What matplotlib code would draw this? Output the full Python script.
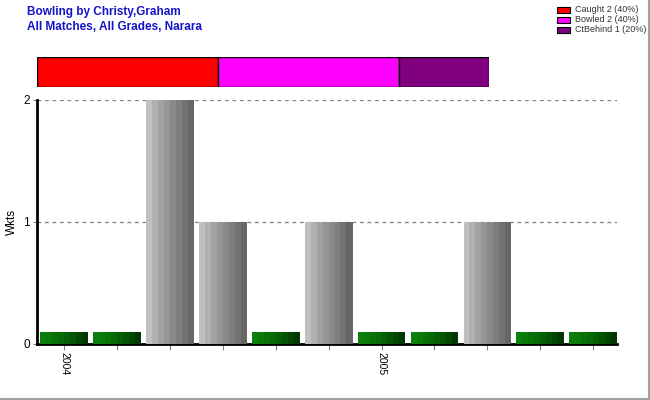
import matplotlib
matplotlib.use("Agg")
import matplotlib.pyplot as plt
from matplotlib.patches import Rectangle
import numpy as np

plt.rcParams["font.family"] = ["Liberation Sans", "DejaVu Sans"]

# ---- data ----
matches = list(range(11))
wkts = [0, 0, 2, 1, 0, 1, 0, 0, 1, 0, 0]
tick_labels = {0: "2004", 6: "2005"}
dismissal_types = ["Caught", "Bowled", "CtBehind"]
dismissal_counts = [2, 2, 1]
dismissal_colors = ["#ff0000", "#ff00ff", "#800080"]
zero_height = 0.1

W, H = 650, 400
fig = plt.figure(figsize=(6.5, 4.0), dpi=100)
fig.patch.set_facecolor("white")

def fx(px):
    return px / W

def fy(py):
    return 1 - py / H

# ---- main axes ----
ax = fig.add_axes([fx(37), fy(344), fx(617) - fx(37), fy(100) - fy(344)])
ax.set_xlim(-0.51, 10.45)
ax.set_ylim(0, 2)

gray_stripes = ["#c0c0c0", "#b0b0b0", "#a2a2a2", "#969696", "#8a8a8a", "#7e7e7e", "#727272", "#666666"]
green_stripes = ["#0c800c", "#0a7a0a", "#087208", "#066a06", "#056005", "#045404", "#024602", "#013801"]
bw = 0.9
n = len(gray_stripes)
sw = bw / n
for x, v in zip(matches, wkts):
    h = v if v > 0 else zero_height
    cols = gray_stripes if v > 0 else green_stripes
    for k, c in enumerate(cols):
        ax.bar(x - bw / 2 + sw * k, h, width=sw * 1.02, align="edge",
               color=c, edgecolor="none", zorder=3)

ax.set_yticks([0, 1, 2])
ax.set_yticklabels(["0", "1", "2"], fontsize=8.5)
for yv in [1, 2]:
    ax.axhline(yv, color="#808080", linestyle=(0, (3, 3)), linewidth=0.9, zorder=1)

ax.set_xticks(matches)
ax.set_xticklabels([tick_labels.get(m, "") for m in matches], rotation=270,
                   fontsize=7.5, va="top", ha="center")
ax.tick_params(axis="x", length=4, color="#808080", width=0.8, pad=2)
ax.tick_params(axis="y", length=3, color="#808080", width=0.8, pad=2)

for s in ["top", "right"]:
    ax.spines[s].set_visible(False)
ax.spines["left"].set_linewidth(2)
ax.spines["bottom"].set_linewidth(2)
ax.set_ylabel("Wkts", fontsize=8.5, labelpad=4)

# ---- stacked dismissal bar ----
ax2 = fig.add_axes([fx(37), fy(87), fx(489) - fx(37), fy(57) - fy(87)])
left = 0
for cnt, c in zip(dismissal_counts, dismissal_colors):
    ax2.barh(0, cnt, left=left, height=1, color=c, edgecolor="black", linewidth=1)
    left += cnt
ax2.set_xlim(0, sum(dismissal_counts))
ax2.set_ylim(-0.5, 0.5)
ax2.axis("off")

# ---- titles ----
fig.text(fx(27), fy(12), "Bowling by Christy,Graham", fontsize=8.5, fontweight="bold",
         color="#1414c8", va="center", ha="left")
fig.text(fx(27), fy(27), "All Matches, All Grades, Narara", fontsize=8.5, fontweight="bold",
         color="#1414c8", va="center", ha="left")

# ---- legend ----
total = sum(dismissal_counts)
for i, (name, cnt, c) in enumerate(zip(dismissal_types, dismissal_counts, dismissal_colors)):
    yc = 10 + 10 * i
    fig.patches.append(Rectangle((fx(557), fy(yc + 3)), fx(13), fy(yc - 3) - fy(yc + 3),
                                 transform=fig.transFigure, facecolor=c,
                                 edgecolor="black", linewidth=0.8))
    fig.text(fx(575), fy(yc), f"{name} {cnt} ({round(100 * cnt / total)}%)",
             fontsize=6.5, color="#333333", va="center", ha="left")

# ---- frame shadow ----
fig.add_artist(plt.Line2D([fx(649), fx(649)], [0, 1], transform=fig.transFigure,
                          color="#a0a0a0", linewidth=1.5))
fig.add_artist(plt.Line2D([0, 1], [fy(398.5), fy(398.5)], transform=fig.transFigure,
                          color="#a0a0a0", linewidth=1.5))

fig.savefig("out.png", dpi=100, facecolor="white")
